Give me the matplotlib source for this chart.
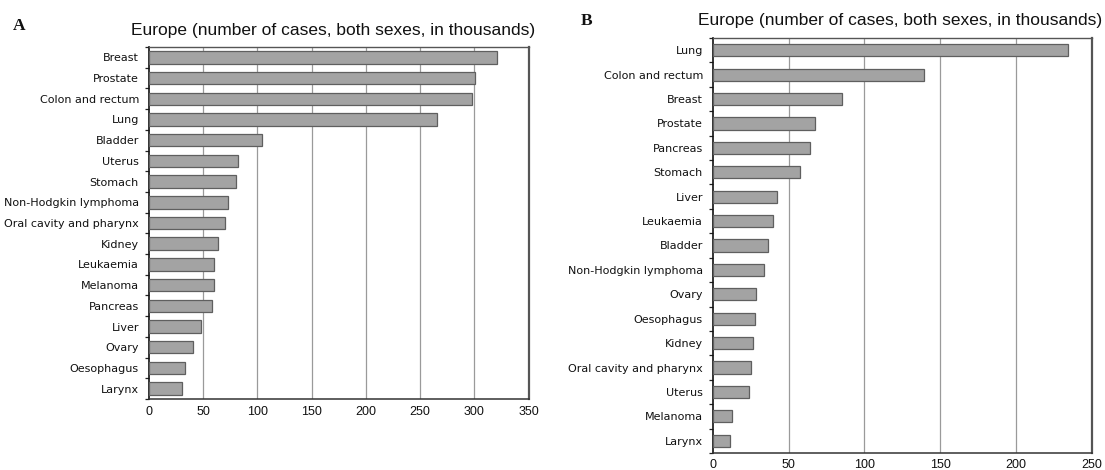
import matplotlib
matplotlib.use("Agg")
import matplotlib.pyplot as plt
import numpy as np

# Panel A: new cases in Europe (thousands), both sexes
cats_a = ["Breast", "Prostate", "Colon and rectum", "Lung", "Bladder", "Uterus",
          "Stomach", "Non-Hodgkin lymphoma", "Oral cavity and pharynx", "Kidney",
          "Leukaemia", "Melanoma", "Pancreas", "Liver", "Ovary", "Oesophagus", "Larynx"]
vals_a = [320.5, 301, 297.5, 265.5, 104.5, 82.5, 80.5, 73, 70.5, 64,
          60, 60, 58, 48.5, 40.5, 33, 30.5]

# Panel B: deaths in Europe (thousands), both sexes
cats_b = ["Lung", "Colon and rectum", "Breast", "Prostate", "Pancreas", "Stomach",
          "Liver", "Leukaemia", "Bladder", "Non-Hodgkin lymphoma", "Ovary",
          "Oesophagus", "Kidney", "Oral cavity and pharynx", "Uterus", "Melanoma", "Larynx"]
vals_b = [234, 139, 85, 67.5, 64, 57.5, 42.5, 39.5, 36.5, 33.5, 28.5,
          28, 26.5, 25.5, 24, 13, 11.5]

ticks_a = [0, 50, 100, 150, 200, 250, 300, 350]
ticks_b = [0, 50, 100, 150, 200, 250]

title = "Europe (number of cases, both sexes, in thousands)"

BAR_FACE = "#a3a3a3"
BAR_EDGE = "#5f5f5f"
GRID = "#9a9a9a"

fig = plt.figure(figsize=(11.05, 4.70), dpi=100)
fig.patch.set_facecolor("white")

ax_a = fig.add_axes([148.7 / 1105, 1 - 399 / 470, 380 / 1105, 352 / 470])
ax_b = fig.add_axes([712.7 / 1105, 1 - 453 / 470, 379.3 / 1105, 415 / 470])


def draw_panel(ax, cats, vals, ticks, bar_h, xpad):
    n = len(cats)
    y = np.arange(n)
    ax.barh(y, vals, height=bar_h, color=BAR_FACE, edgecolor=BAR_EDGE,
            linewidth=0.9, zorder=3)
    ax.set_ylim(n - 0.5, -0.5)
    ax.set_xlim(ticks[0], ticks[-1])
    ax.set_xticks(ticks)
    ax.set_xticklabels([str(t) for t in ticks], family="Liberation Sans",
                       fontsize=9, color="#111111")
    ax.set_yticks(y)
    ax.set_yticklabels(cats, family="DejaVu Sans", fontsize=8, color="#111111")
    ax.set_yticks(np.arange(n + 1) - 0.5, minor=True)
    ax.tick_params(axis="y", which="major", length=0, pad=7)
    ax.tick_params(axis="y", which="minor", length=3, width=0.9,
                   direction="out", color="#222222")
    ax.tick_params(axis="x", which="major", length=0, pad=xpad)
    for t in ticks[1:-1]:
        ax.axvline(t, color=GRID, linewidth=0.9, zorder=1)
    ax.spines["left"].set_color("#111111")
    ax.spines["left"].set_linewidth(1.2)
    ax.spines["bottom"].set_color("#333333")
    ax.spines["bottom"].set_linewidth(1.1)
    ax.spines["top"].set_color("#555555")
    ax.spines["top"].set_linewidth(1.0)
    ax.spines["right"].set_color("#555555")
    ax.spines["right"].set_linewidth(1.6)


draw_panel(ax_a, cats_a, vals_a, ticks_a, 0.6, 5)
draw_panel(ax_b, cats_b, vals_b, ticks_b, 0.5, 4)

fig.text(333 / 1105, 1 - 30 / 470, title, ha="center", va="center",
         family="Liberation Sans", fontsize=12.5, color="#111111")
fig.text(900 / 1105, 1 - 21 / 470, title, ha="center", va="center",
         family="Liberation Sans", fontsize=12.5, color="#111111")

fig.text(19 / 1105, 1 - 26 / 470, "A", ha="center", va="center",
         family="Liberation Serif", fontweight="bold", fontsize=12.5, color="#111111")
fig.text(587 / 1105, 1 - 21 / 470, "B", ha="center", va="center",
         family="Liberation Serif", fontweight="bold", fontsize=12.5, color="#111111")

fig.savefig("out.png", dpi=100, facecolor="white")
